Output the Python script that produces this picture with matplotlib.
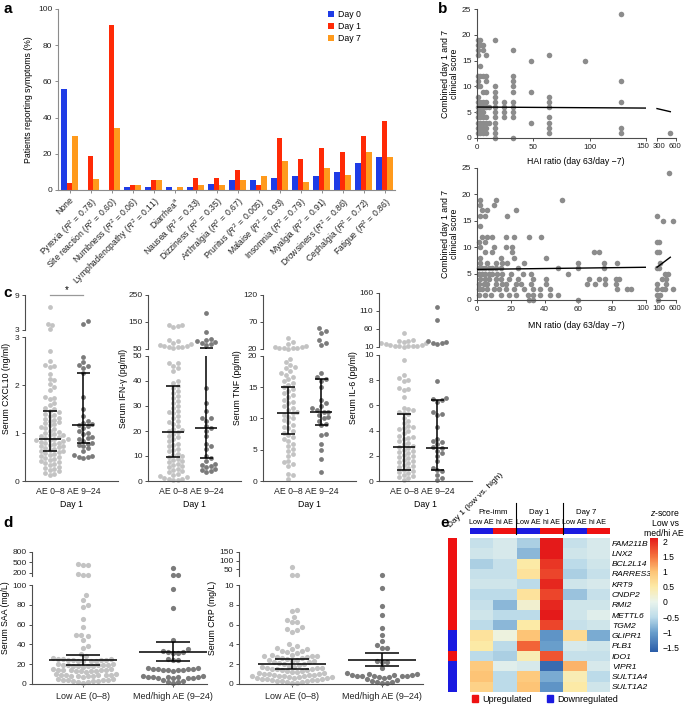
import numpy as np
import matplotlib
matplotlib.use('Agg')
import matplotlib.pyplot as plt
from matplotlib.colors import LinearSegmentedColormap, ListedColormap
from matplotlib.patches import Patch
from matplotlib.lines import Line2D

plt.rcParams['font.family'] = ['Liberation Sans', 'DejaVu Sans']
plt.rcParams['mathtext.fontset'] = 'custom'
plt.rcParams['mathtext.rm'] = 'Liberation Sans'
plt.rcParams['mathtext.it'] = 'Liberation Sans:italic'
plt.rcParams['font.size'] = 6
plt.rcParams['axes.linewidth'] = 0.8

# ---------------- data ----------------
# a: symptoms (% of patients)
symptoms = ['None', r'Pyrexia ($R^2$ = 0.78)', r'Site reaction ($R^2$ = 0.60)',
            r'Numbness ($R^2$ = 0.06)', r'Lymphadenopathy ($R^2$ = 0.11)', r'Diarrhea$^{\rm a}$',
            r'Nausea ($R^2$ = 0.33)', r'Dizziness ($R^2$ = 0.35)', r'Arthralgia ($R^2$ = 0.67)',
            r'Pruritus ($R^2$ = 0.005)', r'Malaise ($R^2$ = 0.93)', r'Insomnia ($R^2$ = 0.79)',
            r'Myalgia ($R^2$ = 0.91)', r'Drowsiness ($R^2$ = 0.86)', r'Cephalgia ($R^2$ = 0.72)',
            r'Fatigue ($R^2$ = 0.86)']
day0 = [56, 0, 0, 1.5, 1.5, 1.5, 1.5, 3.5, 5.5, 5.5, 6.5, 7.5, 7.5, 10, 15, 18]
day1 = [4, 19, 91, 2.5, 5.5, 0, 6.5, 6.5, 11, 2.5, 29, 17, 23, 21, 30, 38]
day7 = [30, 6, 34, 2.5, 5.5, 1.5, 2.5, 2.5, 5.5, 7.5, 16, 4.5, 12, 8.5, 21, 18]

# b: HAI ratio columns and clinical scores
hai_ratios = [1, 3, 5, 8, 11, 16, 24, 32, 48, 64, 96, 128]
hai_scores = [[19, 18, 17, 16, 12, 11, 10, 8, 7, 6, 5, 4, 3, 2, 1],
              [19, 18, 14, 12, 10, 7, 6, 5, 4, 3, 2, 1],
              [18, 17, 12, 9, 7, 6, 5, 4, 3, 2, 1],
              [16, 12, 11, 9, 7, 6, 4, 3, 2, 1],
              [6, 3],
              [19, 10, 9, 8, 7, 6, 5, 4, 3, 2, 1, 0],
              [7, 6, 5, 4],
              [17, 12, 11, 10, 9, 7, 6, 5, 4, 0],
              [15, 9, 3],
              [16, 8, 7, 6, 4, 3, 2, 1],
              [15],
              [24, 11, 7, 2, 1]]
hai_far_x = [510]
hai_far_y = [1]
hai_fit = [6.0, 5.8]
hai_fit_far = [5.7, 5.1]

mn_scores = [19, 18, 17, 16, 14, 12, 11, 10, 9, 8, 7, 6, 5, 4, 3, 2, 1, 0]
mn_ratios = [[2, 11, 50], [2, 10], [3, 6, 23], [2, 5, 18], [2],
             [3, 6, 9, 17, 22, 31, 38], [1, 5], [2, 10, 17, 21], [5, 9, 21, 69, 72],
             [2, 14, 22, 41], [2, 6, 11, 15, 18, 28, 60, 75, 83],
             [1, 3, 5, 7, 9, 11, 14, 24, 48, 60, 75],
             [1, 3, 5, 7, 9, 12, 15, 20, 27, 32, 54],
             [2, 5, 7, 11, 14, 19, 24, 33, 41, 66, 72, 76, 82, 84],
             [1, 4, 6, 11, 15, 17, 23, 26, 32, 41, 65, 70, 76, 82],
             [1, 3, 6, 10, 13, 17, 22, 28, 33, 37, 43, 83, 89, 91],
             [1, 5, 8, 14, 19, 23, 30, 33, 37, 43, 48],
             [31, 33, 60]]
mn_far_x = [420, 100, 260, 510, 100, 150, 100, 150, 170, 100, 150, 310, 390, 220, 330, 100, 330,
            100, 220, 310, 510, 100, 170, 120]
mn_far_y = [24, 16, 15, 15, 11, 11, 9, 9, 7, 6, 6, 5, 5, 4, 4, 3, 3, 2, 2, 2, 2, 1, 1, 0]
mn_fit = [5.8, 6.2]
mn_fit_far = [6.2, 8.1]

# c: day 1 serum levels, AE 0-8 vs AE 9-24
cxcl10_low = [6.9, 4.0, 3.9, 3.2, 2.7, 2.5, 2.42, 2.4, 2.38, 2.22, 2.12, 2.1, 2.02, 1.95, 1.9, 1.75,
              1.72, 1.7, 1.62, 1.58, 1.52, 1.5, 1.46, 1.44, 1.4, 1.38, 1.36, 1.32, 1.3, 1.28, 1.26,
              1.22, 1.2, 1.18, 1.16, 1.12, 1.1, 1.08, 1.05, 1.03, 1.0, 0.98, 0.96, 0.95, 0.93, 0.91,
              0.9, 0.88, 0.87, 0.86, 0.85, 0.84, 0.82, 0.8, 0.79, 0.77, 0.75, 0.73, 0.72, 0.7, 0.68,
              0.66, 0.65, 0.63, 0.62, 0.6, 0.58, 0.56, 0.54, 0.52, 0.5, 0.48, 0.46, 0.44, 0.42, 0.4,
              0.38, 0.35, 0.33, 0.3, 0.28, 0.25, 0.22, 0.2, 0.17, 0.15, 0.12]
cxcl10_high = [4.6, 4.1, 2.58, 2.47, 2.42, 2.4, 2.36, 2.26, 1.75, 1.5, 1.35, 1.25, 1.21, 1.18, 1.16,
               1.14, 1.1, 1.05, 1.0, 0.97, 0.92, 0.9, 0.87, 0.84, 0.8, 0.78, 0.75, 0.72, 0.68, 0.62,
               0.55, 0.52, 0.5, 0.49, 0.48]
ifn_low = [140, 138, 135, 132, 82, 78, 72, 68, 65, 62, 60, 58, 57, 56, 55,
           47, 47, 46, 45, 44, 40, 39, 38, 37, 36, 35, 34, 33, 32, 31, 30, 29, 28, 27.5, 27, 26,
           25, 24, 23.5, 23, 22, 21, 20.5, 20, 19.5, 19, 18, 17.5, 17, 16, 15, 14.5, 14, 13, 12.5,
           12, 11, 10.5, 10, 9.5, 9, 8.5, 8, 7.5, 7, 6.5, 6, 5.5, 5, 4.5, 4, 3.5, 3, 2.5, 2, 1.5,
           1.2, 1, 0.8, 0.5, 0.3]
ifn_high = [182, 114, 88, 84, 80, 76, 72, 70, 66, 37, 31, 28, 25, 25, 24, 22, 21.4, 20, 18, 15, 14,
            13, 10, 9.2, 8, 7, 6.5, 6, 5.5, 5, 4.5, 4, 3.5]
tnf_low = [40, 33, 29, 26, 24, 23, 22.5, 22, 21.5, 21, 20.5, 19.5, 19, 18.6, 18.2, 18, 17.6, 17.2,
           17, 16.6, 16.3, 16, 15.7, 15.4, 15, 14.7, 14.4, 14, 13.7, 13.4, 13, 12.7, 12.4, 12,
           11.7, 11.4, 11, 10.8, 10.6, 10.3, 10, 9.7, 9.4, 9, 8.7, 8.4, 8, 7.7, 7.4, 7, 6.7, 6.4,
           6, 5.6, 5.2, 4.8, 4.4, 4, 3.2, 3.0, 2.7, 2.4, 1.2, 1.0, 0.4]
tnf_high = [58, 53, 50, 36, 32, 28, 17.3, 16.6, 16.3, 16, 15, 13, 12.5, 12, 11.6, 11.3, 11.1, 11,
            10.6, 10.2, 10, 9.6, 9.2, 8.9, 7.6, 7.3, 6, 5, 3.6, 1.5]
il6_low = [50, 30, 28, 26, 24, 22, 20, 18, 16, 15, 14, 13, 12.5, 12, 11.5, 11, 9.6, 8.4, 8.2, 8.0,
           7.9, 7.4, 7.3, 7.2, 6.7, 5.8, 5.7, 5.6, 5.5, 5.4, 5.3, 5.0, 4.8, 4.6, 4.4, 4.3, 4.2,
           4.1, 4.0, 3.8, 3.6, 3.5, 3.4, 3.3, 3.2, 3.0, 2.9, 2.8, 2.7, 2.6, 2.5, 2.4, 2.3, 2.2,
           2.1, 2.0, 1.9, 1.8, 1.7, 1.6, 1.5, 1.4, 1.3, 1.2, 1.1, 1.0, 0.9, 0.8, 0.7, 0.6, 0.5,
           0.4, 0.3, 0.2, 0.1]
il6_high = [120, 85, 28, 25, 22, 20, 18, 7.9, 6.6, 6.5, 6.4, 6.3, 5.5, 5.3, 5.2, 4.3, 3.3, 3.2,
            3.1, 2.9, 2.7, 2.6, 2.4, 2.2, 2.0, 1.6, 1.0, 0.9, 0.8, 0.5, 0.2, 0.1]
c_labels = ['Serum CXCL10 (ng/ml)', 'Serum IFN-γ (pg/ml)', 'Serum TNF (pg/ml)', 'Serum IL-6 (pg/ml)']
c_median = [[0.87, 1.16], [19.7, 21.4], [10.8, 11.1], [2.7, 2.65]]
c_iqr = [[(0.63, 1.45), (0.8, 2.25)], [(9.5, 38), (9.2, 52)],
         [(7.6, 15), (8.9, 16.3)], [(0.9, 5.3), (0.9, 6.4)]]
c_groups = ['AE 0–8', 'AE 9–24']

# d: SAA / CRP, low vs med/high AE
saa_low = [440, 430, 420, 145, 140, 135,
           90, 85, 80, 78, 66, 58, 50, 49, 48, 44, 38, 36, 30, 28,
           26, 25.5, 25, 25, 24.5, 24.5, 24, 24, 23.5, 23.5, 23, 23,
           20, 20, 19.5, 19.5, 19, 19, 19, 18.5, 18.5, 18, 18, 17.5,
           15, 15, 14.5, 14.5, 14, 14, 14, 13.5, 13.5, 13, 13, 12.5,
           10, 10, 9.5, 9.5, 9, 9, 9, 8.5, 8.5, 8, 8, 7.5,
           5, 5, 4.5, 4.5, 4, 4, 3.5, 3.5, 3, 2.5, 2, 1.5]
saa_high = [340, 130, 125, 96, 77, 44, 35, 33, 32, 32, 31, 31, 25, 24, 24,
            16, 16, 15.5, 15.5, 15, 15, 14.5, 14.5, 14, 14, 13.5,
            8, 8, 7.5, 7.5, 7, 7, 7, 6.5, 6.5, 6, 6, 4, 3, 2, 2, 1]
crp_low = [62, 15, 14, 7.5, 7.4, 6.8, 6.5, 6.3, 6.3, 5.8, 5.6, 5.5, 5.3, 4.0, 3.8, 3.6, 3.5, 3.5,
           3.3, 3.3, 3.2, 3.1, 2.9, 2.9, 2.8, 2.8, 2.8, 2.7, 2.7, 2.6, 2.6, 2.5, 2.4, 2.4, 2.3,
           2.3, 2.2, 2.2, 2.1, 2.0, 2.0, 1.9, 1.8, 1.7, 1.7, 1.6, 1.6, 1.6, 1.5, 1.5, 1.5, 1.4,
           1.4, 1.3, 1.3, 1.2, 1.2, 1.1, 1.1, 1.0, 1.0, 1.0, 0.9, 0.9, 0.9, 0.8, 0.8, 0.8, 0.8,
           0.7, 0.7, 0.7, 0.6, 0.6, 0.6, 0.5, 0.5, 0.5, 0.4, 0.4, 0.4, 0.3, 0.3, 0.3, 0.2, 0.2,
           0.1, 0.1]
crp_high = [14, 9.7, 7.9, 7.0, 5.7, 5.0, 4.3, 3.9, 3.6, 3.6, 2.3, 2.2, 2.2, 1.6, 1.1, 1.0, 1.0,
            0.9, 0.9, 0.9, 0.8, 0.8, 0.8, 0.8, 0.8, 0.7, 0.7, 0.6, 0.5, 0.4, 0.3, 0.2, 0.2, 0.1, 0.1]
d_labels = ['Serum SAA (mg/L)', 'Serum CRP (mg/L)']
d_mean = [[24.5, 32.5], [2.05, 2.45]]
d_sem = [[(19.5, 29.5), (23, 42)], [(1.5, 2.55), (1.8, 3.1)]]
d_groups = ['Low AE (0–8)', 'Med/high AE (9–24)']

# e: heatmap z-scores
genes = ['FAM211B', 'LNX2', 'BCL2L14', 'RARRES3', 'KRT9', 'CNDP2', 'RMI2', 'METTL6', 'TGM2',
         'GLIPR1', 'PLB1', 'IDO1', 'VIPR1', 'SULT1A4', 'SULT1A2']
zscores = [[-0.4, -0.2, -0.6, 2.1, -0.4, -0.2],
           [-0.3, -0.2, -0.8, 2.1, -0.3, -0.2],
           [-0.6, -0.4, 0.5, 1.9, -0.5, -0.3],
           [-0.4, -0.4, 0.6, 1.8, -0.6, -0.4],
           [-0.3, -0.3, -0.5, 2.0, -0.3, -0.2],
           [-0.5, -0.5, 0.6, 1.8, -0.7, -0.4],
           [-0.4, -0.8, 0.2, 2.0, -0.3, -0.3],
           [-0.3, -0.5, -0.5, 2.1, -0.3, -0.1],
           [-0.5, -0.8, 0.5, 1.8, -0.4, -0.3],
           [0.6, 0.1, 1.0, -1.1, 0.7, -0.9],
           [0.5, -0.5, 1.6, -1.0, -0.2, -0.3],
           [-0.5, -0.6, 0.4, 1.7, -0.4, -0.4],
           [0.9, -0.1, -0.2, -1.5, 1.1, -0.2],
           [1.0, -0.5, 0.9, -0.9, 0.4, -0.5],
           [0.8, -0.5, 1.0, -1.1, 0.5, -0.3]]
regulated = [1, 1, 1, 1, 1, 1, 1, 1, 1, 0, 0, 1, 0, 0, 0]
col_groups = ['Pre-imm', 'Day 1', 'Day 7']
col_labels = ['Low AE', 'hi AE']

BLUE, RED, ORANGE = '#1f3ce6', '#ff2a06', '#ff9a1c'
LIGHT, DARK, BGRAY = '#c3c3c3', '#7b7b7b', '#8c8c8c'
SPINE = '#4d4d4d'

W, H = 685, 705
fig = plt.figure(figsize=(W / 100, H / 100), dpi=100)


def add_ax(x0, y0, x1, y1):
    return fig.add_axes([x0 / W, 1 - y1 / H, (x1 - x0) / W, (y1 - y0) / H])


def ftext(x, y, s, **kw):
    fig.text(x / W, 1 - y / H, s, **kw)


def clean(ax, left=True, bottom=True, color=SPINE):
    for s in ['top', 'right']:
        ax.spines[s].set_visible(False)
    ax.spines['left'].set_visible(left)
    ax.spines['bottom'].set_visible(bottom)
    for s in ['left', 'bottom']:
        ax.spines[s].set_color(color)
    ax.tick_params(length=2.5, width=0.7, color=color, labelsize=6, pad=1.5, labelcolor='#222222')
    if not left:
        ax.set_yticks([])
    if not bottom:
        ax.set_xticks([])
    ax.patch.set_alpha(0)


def swarm(ax, xc, vals, color, size=4.8, step=4.5):
    vals = np.asarray(vals, float)
    if len(vals) == 0:
        return
    pix = ax.transData.transform(np.column_stack([np.full(len(vals), xc), vals]))
    cands = [0.0]
    for j in range(1, 80):
        cands += [j * step / 2, -j * step / 2]
    placed = []
    offs = np.zeros(len(vals))
    for i in np.argsort(vals):
        py = pix[i, 1]
        for c in cands:
            if all((qx - c) ** 2 + (qy - py) ** 2 >= step ** 2 for qx, qy in placed):
                break
        placed.append((c, py))
        offs[i] = c
    xs = ax.transData.inverted().transform(np.column_stack([pix[:, 0] + offs, pix[:, 1]]))[:, 0]
    ax.scatter(xs, vals, s=(size * 0.72) ** 2, color=color, lw=0, clip_on=False, zorder=2)


def summary(axes, xc, mid, lo, hi, half, cap):
    for a in axes:
        a.hlines(mid, xc - half, xc + half, color='k', lw=1.1, zorder=4)
        a.vlines(xc, lo, hi, color='k', lw=1.1, zorder=4)
        a.hlines([lo, hi], xc - cap, xc + cap, color='k', lw=1.1, zorder=4)


# ---------------- a ----------------
ax = add_ax(58, 9, 395, 190)
x = np.arange(len(symptoms))
w = 0.28
ax.bar(x - w, day0, w, color=BLUE, label='Day 0')
ax.bar(x, day1, w, color=RED, label='Day 1')
ax.bar(x + w, day7, w, color=ORANGE, label='Day 7')
ax.set_xlim(-0.55, 15.5)
ax.set_ylim(0, 100)
clean(ax, color='#8c8c8c')
ax.set_yticks([0, 20, 40, 60, 80, 100])
ax.set_xticks(x)
ax.set_xticklabels(symptoms, rotation=45, ha='right', rotation_mode='anchor', fontsize=6.2)
ax.set_ylabel('Patients reporting symptoms (%)', fontsize=6.3, labelpad=4)
ax.legend(loc='upper left', bbox_to_anchor=(328 / W, 1 - 10 / H), bbox_transform=fig.transFigure,
          frameon=False, fontsize=6.3, handlelength=0.7, handleheight=0.7, handletextpad=0.4,
          labelspacing=0.35, borderpad=0, borderaxespad=0)

# ---------------- b ----------------
hx = [r for r, ys in zip(hai_ratios, hai_scores) for _ in ys]
hy = [y for ys in hai_scores for y in ys]
mx = [r for rs in mn_ratios for r in rs]
my = [s for s, rs in zip(mn_scores, mn_ratios) for _ in rs]

rows_b = [(9, 138, (0, 150), [0, 50, 100, 150], (300, 600), [300, 600], hx, hy, hai_far_x, hai_far_y,
           hai_fit, hai_fit_far, 'HAI ratio (day 63/day −7)', 162),
          (168, 300, (0, 100), [0, 20, 40, 60, 80, 100], (100, 600), [100, 600], mx, my, mn_far_x,
           mn_far_y, mn_fit, mn_fit_far, 'MN ratio (day 63/day −7)', 325)]
for (top, bot, xl, xt, xl2, xt2, px_, py_, fx, fy, fit, fit2, xlab, ylab_y) in rows_b:
    a1 = add_ax(477, top, 646, bot)
    a1.scatter(px_, py_, s=16, color=BGRAY, lw=0, clip_on=False, zorder=2)
    a1.plot(xl, fit, color='k', lw=1, zorder=3)
    a1.set_xlim(*xl)
    a1.set_ylim(0, 25)
    clean(a1)
    a1.set_xticks(xt)
    a1.set_xticklabels([str(t) for t in xt[:-1]] + [''])
    a1.set_yticks([0, 5, 10, 15, 20, 25])
    a1.tick_params(axis='x', labelsize=5.8)
    a2 = add_ax(657, top, 676, bot)
    a2.scatter(fx, fy, s=16, color=BGRAY, lw=0, clip_on=False, zorder=2)
    a2.plot([xl2[0], xl2[0] + 0.7 * (xl2[1] - xl2[0])], fit2, color='k', lw=1, zorder=3, clip_on=False)
    a2.set_xlim(*xl2)
    a2.set_ylim(0, 25)
    clean(a2, left=False)
    a2.set_xticks(xt2)
    a2.set_xticklabels(['', ''])
    # crowded labels around the axis break, placed by hand
    for lx, lt in zip([643, 659, 675], [xt[-1], xt2[0], xt2[1]]):
        ftext(lx, bot + 8, str(lt), ha='center', va='center', fontsize=5.6, color='#222222')
    ftext(576, ylab_y, xlab, ha='center', va='center', fontsize=6.3)
    ftext(450, (top + bot) / 2, 'Combined day 1 and 7\nclinical score', rotation=90,
          ha='center', va='center', fontsize=6.3, linespacing=1.1)

# ---------------- c ----------------
c_low = [cxcl10_low, ifn_low, tnf_low, il6_low]
c_high = [cxcl10_high, ifn_high, tnf_high, il6_high]
c_split = [3, 50, 20, 10]
c_up_lim = [(3, 9), (50, 250), (20, 120), (10, 160)]
c_up_ticks = [[3, 9], [50, 150, 250], [20, 70, 120], [10, 60, 110, 160]]
c_lo_ticks = [[0, 1, 2, 3], [0, 10, 20, 30, 40, 50], [0, 5, 10, 15, 20], [0, 2, 4, 6, 8, 10]]
c_left = [25, 148, 263, 379]
c_up_box = [(295, 330), (295, 349), (295, 349), (293, 347)]
c_lo_box = [(337, 481), (356, 481), (356, 481), (355, 481)]

for k in range(4):
    x0 = c_left[k]
    au = add_ax(x0, c_up_box[k][0], x0 + 93, c_up_box[k][1])
    al = add_ax(x0, c_lo_box[k][0], x0 + 93, c_lo_box[k][1])
    for a in (au, al):
        a.set_xlim(-0.75, 2.04)
    au.set_ylim(*c_up_lim[k])
    al.set_ylim(0, c_split[k])
    clean(au, bottom=False)
    clean(al)
    au.set_yticks(c_up_ticks[k])
    al.set_yticks(c_lo_ticks[k])
    al.set_xticks([0, 1])
    al.set_xticklabels(c_groups, fontsize=6.3)
    al.tick_params(axis='x', length=0, pad=4)
    al.set_xlabel('Day 1', fontsize=6.3, labelpad=3)
    for j, (vals, col) in enumerate([(c_low[k], LIGHT), (c_high[k], DARK)]):
        v = np.asarray(vals, float)
        swarm(au, j, v[v > c_split[k]], col)
        swarm(al, j, v[v <= c_split[k]], col)
        summary([au, al], j, c_median[k][j], c_iqr[k][j][0], c_iqr[k][j][1], 0.33, 0.2)
    ftext(x0 - 18 if k == 0 else x0 - 25, 388, c_labels[k], rotation=90, ha='center',
          va='center', fontsize=6.3)

# significance bar on CXCL10
fig.add_artist(Line2D([50 / W, 83 / W], [1 - 295 / H, 1 - 295 / H], color='#999999', lw=0.9))
ftext(66.5, 290, '*', ha='center', va='center', fontsize=7)

# ---------------- d ----------------
d_vals = [(saa_low, saa_high), (crp_low, crp_high)]
d_split = [100, 10]
d_up_lim = [(100, 800), (10, 150)]
d_up_ticks = [[200, 500, 800], [50, 100, 150]]
d_lo_ticks = [[0, 20, 40, 60, 80, 100], [0, 2, 4, 6, 8, 10]]
d_box_x = [(32, 207, (-0.567, 1.378)), (239, 423, (-0.589, 1.456))]

for k in range(2):
    x0, x1, xl = d_box_x[k]
    au = add_ax(x0, 552, x1, 576)
    al = add_ax(x0, 585, x1, 684)
    for a in (au, al):
        a.set_xlim(*xl)
    au.set_ylim(*d_up_lim[k])
    al.set_ylim(0, d_split[k])
    clean(au, bottom=False)
    clean(al)
    au.set_yticks(d_up_ticks[k])
    al.set_yticks(d_lo_ticks[k])
    al.set_xticks([0, 1])
    al.set_xticklabels(d_groups, fontsize=6.5)
    al.tick_params(axis='x', pad=3)
    for j, col in enumerate([LIGHT, DARK]):
        v = np.asarray(d_vals[k][j], float)
        swarm(au, j, v[v > d_split[k]], col, size=5.2, step=5.0)
        swarm(al, j, v[v <= d_split[k]], col, size=5.2, step=5.0)
        summary([au, al], j, d_mean[k][j], d_sem[k][j][0], d_sem[k][j][1], 0.38, 0.19)
    ftext(x0 - 26, 618, d_labels[k], rotation=90, ha='center', va='center', fontsize=6.3)

# ---------------- e ----------------
zmin, zmax = -1.65, 2.1
stops = [(-1.65, '#2a5ca8'), (-1.0, '#6a9fcc'), (-0.5, '#bddcea'), (0.0, '#eaf4ec'),
         (0.5, '#fdeaa6'), (1.0, '#fdc476'), (1.5, '#f5733e'), (2.1, '#e41a1a')]
cmap = LinearSegmentedColormap.from_list('z', [((v - zmin) / (zmax - zmin), c) for v, c in stops])

ah = add_ax(470, 538, 609, 692)
im = ah.imshow(np.array(zscores), cmap=cmap, vmin=zmin, vmax=zmax, aspect='auto',
               interpolation='nearest')
ah.set_xticks([])
ah.yaxis.tick_right()
ah.set_yticks(range(len(genes)))
ah.set_yticklabels(genes, fontsize=6.1, style='italic')
ah.tick_params(axis='y', length=0, pad=2)
for s in ah.spines.values():
    s.set_visible(False)

UP, DOWN = '#ee1111', '#1a1ae0'
ab = add_ax(448, 538, 457, 692)
ab.imshow(np.array(regulated)[:, None], cmap=ListedColormap([DOWN, UP]), vmin=0, vmax=1,
          aspect='auto', interpolation='nearest')
ab.axis('off')

at = add_ax(470, 528, 609, 534)
at.imshow([[0, 1, 0, 1, 0, 1]], cmap=ListedColormap([DOWN, UP]), vmin=0, vmax=1, aspect='auto')
at.axis('off')
cw = 139 / 6
for i in range(6):
    ftext(470 + cw * (i + 0.5), 522, col_labels[i % 2], ha='center', va='center', fontsize=5.2)
for g in range(3):
    ftext(470 + cw * (2 * g + 1), 512, col_groups[g], ha='center', va='center', fontsize=5.6)
for g in (1, 2):
    xs = (470 + cw * 2 * g) / W
    fig.add_artist(Line2D([xs, xs], [1 - 503 / H, 1 - 534 / H], color='k', lw=0.8))
ftext(452, 529, 'Day 1 (low vs. high)', rotation=45, ha='left', va='bottom',
      rotation_mode='anchor', fontsize=6)

cax = add_ax(650, 538, 658, 652)
cb = fig.colorbar(im, cax=cax, ticks=[2, 1.5, 1, 0.5, 0, -0.5, -1, -1.5])
cb.ax.set_yticklabels(['2', '1.5', '1', '0.5', '0', '−0.5', '−1', '−1.5'])
cb.ax.tick_params(length=0, labelsize=6.2, pad=3)
cb.outline.set_visible(False)
ftext(665, 513, '$z$-score', ha='center', va='center', fontsize=6.2)
ftext(665, 523, 'Low vs', ha='center', va='center', fontsize=6.2)
ftext(664, 533, 'med/hi AE', ha='center', va='center', fontsize=6.2)

fig.legend(handles=[Patch(color=UP), Patch(color=DOWN)], labels=['Upregulated', 'Downregulated'],
           loc='center', bbox_to_anchor=(545 / W, 1 - 699 / H), ncol=2, frameon=False,
           fontsize=6.5, handlelength=0.7, handleheight=0.7, handletextpad=0.5, columnspacing=1.6)

# panel letters
for lab, (px_, py_) in zip('abcde', [(3, 9), (438, 9), (3, 293), (3, 523), (440, 523)]):
    ftext(px_, py_, lab, fontsize=11, fontweight='bold', ha='left', va='center')

fig.savefig('out.png', dpi=100)
